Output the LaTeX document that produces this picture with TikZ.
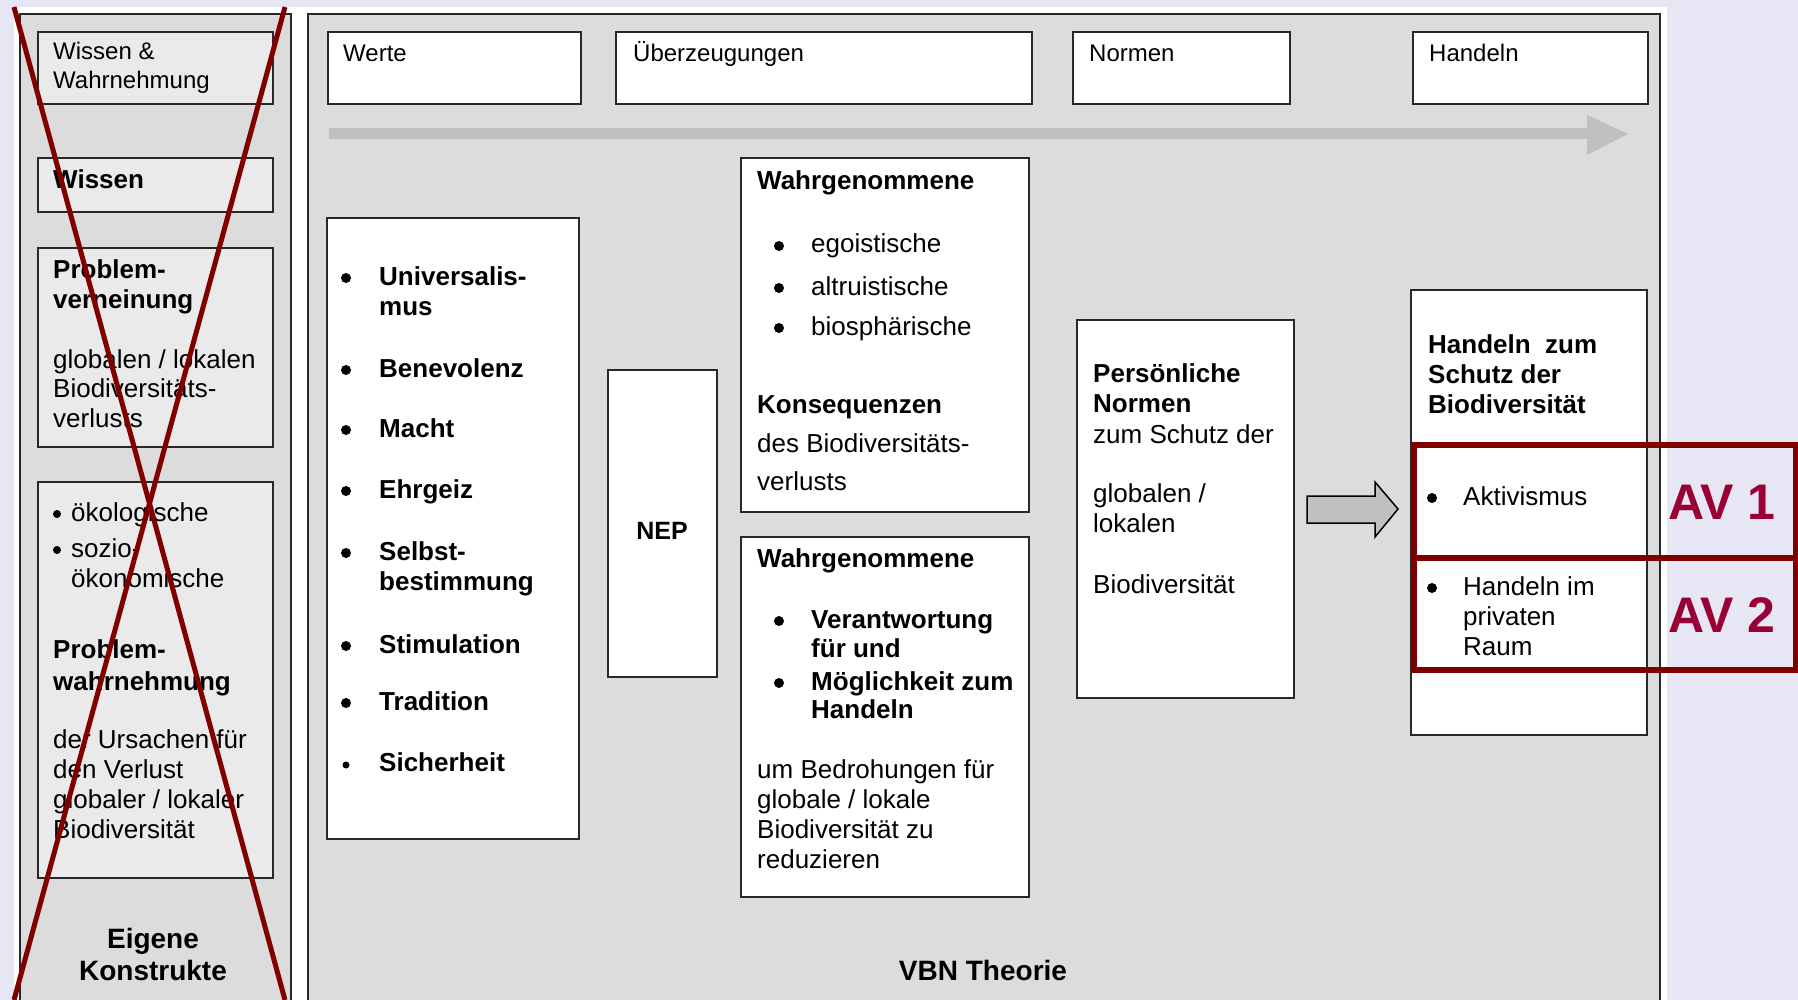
\documentclass[tikz,border=0pt]{standalone}
\usepackage{fontspec}
\setmainfont{Liberation Sans}
\definecolor{lav}{RGB}{230,230,245}
\definecolor{panelgray}{RGB}{220,220,220}
\definecolor{lbox}{RGB}{234,234,234}
\definecolor{arrowgray}{RGB}{192,192,192}
\definecolor{xred}{RGB}{128,0,0}
\definecolor{avred}{RGB}{153,0,51}
\definecolor{edgecol}{RGB}{40,40,40}
\newcommand\mybox[6]{\node[#2, anchor=north west, inner sep=0pt, outer sep=0pt, minimum width={(#5)-(#3)}, minimum height={(#6)-(#4)}] (#1) at (#3,#4) {};}
\begin{document}
\begin{tikzpicture}[x=1pt,y=-1pt,
  htxt/.style={anchor=base west, inner sep=0pt, font=\fontsize{24}{28}\selectfont, text=black},
  txt/.style={anchor=base west, inner sep=0pt, font=\fontsize{26}{30}\selectfont, text=black},
  btxt/.style={anchor=base west, inner sep=0pt, font=\fontsize{26}{30}\selectfont\bfseries, text=black},
  bul/.style={circle, fill=black, inner sep=0pt, minimum size=10pt},
  boxw/.style={draw=edgecol, line width=2pt, fill=white},
  boxg/.style={draw=edgecol, line width=2pt, fill=lbox},
  panelbox/.style={draw=edgecol, line width=2pt, fill=panelgray},
  avtxt/.style={anchor=base west, inner sep=0pt, font=\fontsize{50}{54}\selectfont\bfseries, text=avred},
  redframe/.style={draw=xred, line width=6pt},
  redx/.style={draw=xred, line width=5pt}]
\useasboundingbox (0,0) rectangle (1798,1000);
\fill[lav] (0,0) rectangle (1798,1000);
\fill[white] (14,7) rectangle (1667,1000);
% panels
\mybox{leftpanel}{panelbox}{19.5}{14}{290.5}{1012}
\mybox{rightpanel}{panelbox}{307.5}{14}{1660}{1012}
% left boxes
\mybox{lwissenwahr}{boxg}{38}{32}{273}{104}
\mybox{lwissen}{boxg}{38}{158}{273}{212}
\mybox{lproblem}{boxg}{38}{248}{273}{447}
\mybox{lwahrn}{boxg}{38}{482}{273}{878}
% header boxes
\mybox{werte}{boxw}{328}{32}{581}{104}
\mybox{ueberz}{boxw}{616}{32}{1032}{104}
\mybox{normen}{boxw}{1073}{32}{1290}{104}
\mybox{handeln}{boxw}{1413}{32}{1648}{104}
% content boxes
\mybox{values}{boxw}{327}{218}{579}{839}
\mybox{nep}{boxw}{608}{370}{717}{677}
\mybox{wahr1}{boxw}{741}{158}{1029}{512}
\mybox{wahr2}{boxw}{741}{537}{1029}{897}
\mybox{pnorm}{boxw}{1077}{320}{1294}{698}
\mybox{hschutz}{boxw}{1411}{290}{1647}{735}
% long gray arrow
\fill[arrowgray] (329,128) -- (1587,128) -- (1587,115) -- (1628,134) -- (1587,155) -- (1587,139) -- (329,139) -- cycle;
% left panel texts
\node[htxt] (t1) at (53,60) {Wissen \&};
\node[htxt] (t2) at (53,89) {Wahrnehmung};
\node[btxt] (t3) at (53,189) {Wissen};
\node[btxt] (t4) at (53,278) {Problem-};
\node[btxt] (t5) at (53,308) {verneinung};
\node[txt] (t6) at (53,368) {globalen / lokalen};
\node[txt] (t7) at (53,397) {Biodiversitäts-};
\node[txt] (t8) at (53,427) {verlusts};
\node[bul, minimum size=8pt] (b1) at (57,514) {};
\node[txt] (t9) at (71,521) {ökologische};
\node[bul, minimum size=8pt] (b2) at (57,550) {};
\node[txt] (t10) at (71,557) {sozio-};
\node[txt] (t11) at (71,587) {ökonomische};
\node[btxt] (t12) at (53,658) {Problem-};
\node[btxt] (t13) at (53,690) {wahrnehmung};
\node[txt] (t14) at (53,748) {der Ursachen für};
\node[txt] (t15) at (53,778) {den Verlust};
\node[txt] (t16) at (53,808) {globaler / lokaler};
\node[txt] (t17) at (53,838) {Biodiversität};
\node[btxt, anchor=base, font=\fontsize{28}{32}\selectfont\bfseries] (t18) at (153,948) {Eigene};
\node[btxt, anchor=base, font=\fontsize{28}{32}\selectfont\bfseries] (t19) at (153,980) {Konstrukte};
% header texts
\node[htxt] (h1) at (343,62) {Werte};
\node[htxt] (h2) at (633,62) {Überzeugungen};
\node[htxt] (h3) at (1089,62) {Normen};
\node[htxt] (h4) at (1429,62) {Handeln};
% values
\node[bul] (v1b) at (346,278) {};
\node[bul] (v2b) at (346,370) {};
\node[bul] (v3b) at (346,430) {};
\node[bul] (v4b) at (346,491) {};
\node[bul] (v5b) at (346,553) {};
\node[bul] (v6b) at (346,646) {};
\node[bul] (v7b) at (346,703) {};
\node[bul, minimum size=7pt] (v8b) at (346,765) {};
\node[btxt] (v1) at (379,285) {Universalis-};
\node[btxt] (v1x) at (379,315) {mus};
\node[btxt] (v2) at (379,377) {Benevolenz};
\node[btxt] (v3) at (379,437) {Macht};
\node[btxt] (v4) at (379,498) {Ehrgeiz};
\node[btxt] (v5) at (379,560) {Selbst-};
\node[btxt] (v5x) at (379,590) {bestimmung};
\node[btxt] (v6) at (379,653) {Stimulation};
\node[btxt] (v7) at (379,710) {Tradition};
\node[btxt] (v8) at (379,771) {Sicherheit};
% NEP
\node[btxt, anchor=base, font=\fontsize{25}{30}\selectfont\bfseries] (neptxt) at (662,539) {NEP};
% wahr1
\node[btxt] (w1) at (757,190) {Wahrgenommene};
\node[bul] (w1b1) at (779,246) {};
\node[bul] (w1b2) at (779,288) {};
\node[bul] (w1b3) at (779,328) {};
\node[txt] (w1a) at (811,253) {egoistische};
\node[txt] (w1c) at (811,295) {altruistische};
\node[txt] (w1d) at (811,335) {biosphärische};
\node[btxt] (w1e) at (757,413) {Konsequenzen};
\node[txt] (w1f) at (757,452) {des Biodiversitäts-};
\node[txt] (w1g) at (757,490) {verlusts};
% wahr2
\node[btxt] (w2) at (757,567) {Wahrgenommene};
\node[bul] (w2b1) at (779,621) {};
\node[bul] (w2b2) at (779,683) {};
\node[btxt] (w2a) at (811,628) {Verantwortung};
\node[btxt] (w2c) at (811,657) {für und};
\node[btxt] (w2d) at (811,690) {Möglichkeit zum};
\node[btxt] (w2e) at (811,718) {Handeln};
\node[txt] (w2f) at (757,778) {um Bedrohungen für};
\node[txt] (w2g) at (757,808) {globale / lokale};
\node[txt] (w2h) at (757,838) {Biodiversität zu};
\node[txt] (w2i) at (757,868) {reduzieren};
% VBN
\node[btxt, anchor=base, font=\fontsize{28}{32}\selectfont\bfseries] (vbn) at (983,980) {VBN Theorie};
% persoenliche normen
\node[btxt] (p1) at (1093,382) {Persönliche};
\node[btxt] (p2) at (1093,412) {Normen};
\node[txt] (p3) at (1093,443) {zum Schutz der};
\node[txt] (p4) at (1093,502) {globalen /};
\node[txt] (p5) at (1093,532) {lokalen};
\node[txt] (p6) at (1093,593) {Biodiversität};
% block arrow
\draw[draw=black, fill=arrowgray, line width=1.5pt] (1307,496) -- (1375,496) -- (1375,482) -- (1398,509) -- (1375,537) -- (1375,523) -- (1307,523) -- cycle;
% handeln zum schutz
\node[btxt] (s1) at (1428,353) {Handeln\ \ zum};
\node[btxt] (s2) at (1428,383) {Schutz der};
\node[btxt] (s3) at (1428,413) {Biodiversität};
\node[bul] (s4b) at (1432,498) {};
\node[txt] (s4) at (1463,505) {Aktivismus};
\node[bul] (s5b) at (1432,588) {};
\node[txt] (s5) at (1463,595) {Handeln im};
\node[txt] (s6) at (1463,625) {privaten};
\node[txt] (s7) at (1463,655) {Raum};
% red frames
\draw[redframe] (1413.5,445) rectangle (1796,558);
\draw[redframe] (1413.5,558) rectangle (1796,670);
\node[avtxt] (av1) at (1668,519) {AV 1};
\node[avtxt] (av2) at (1668,632) {AV 2};
% red X
\draw[redx] (14,7) -- (285,1000);
\draw[redx] (285,7) -- (14,1000);
\end{tikzpicture}
\end{document}
